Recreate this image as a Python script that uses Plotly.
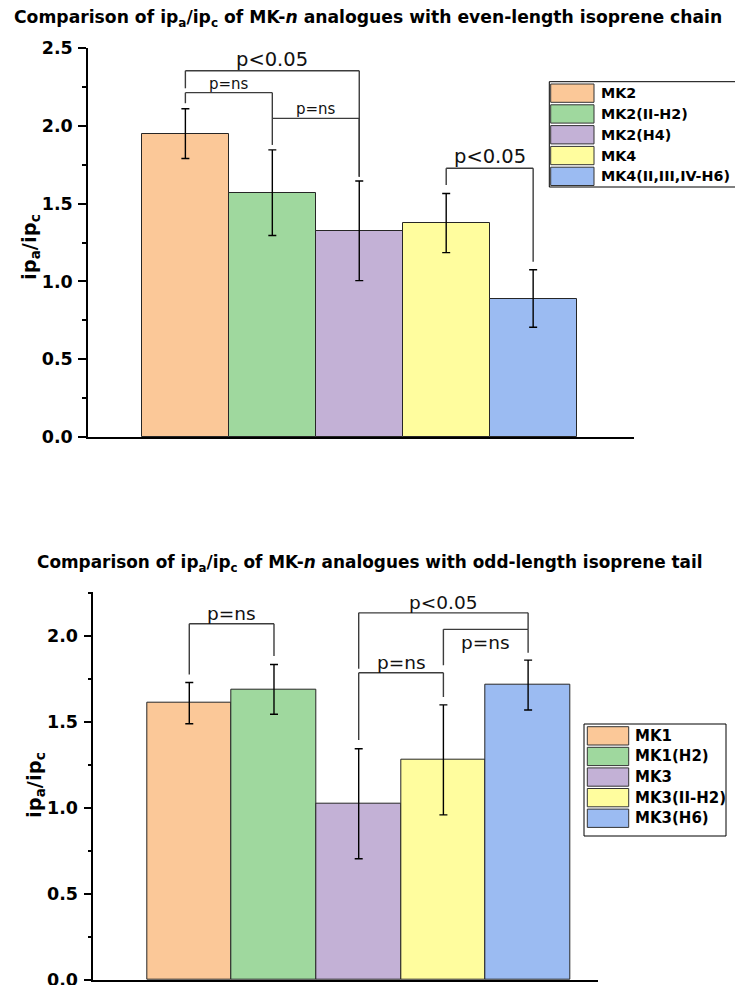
import plotly.graph_objects as go

# ---- data -------------------------------------------------------------
even_names = ["MK2", "MK2(II-H2)", "MK2(H4)", "MK4", "MK4(II,III,IV-H6)"]
even_ratio = [1.95, 1.57, 1.325, 1.375, 0.89]
even_err = [0.16, 0.275, 0.32, 0.19, 0.185]

odd_names = ["MK1", "MK1(H2)", "MK3", "MK3(II-H2)", "MK3(H6)"]
odd_ratio = [1.61, 1.69, 1.025, 1.28, 1.715]
odd_err = [0.12, 0.145, 0.32, 0.32, 0.145]

bar_colors = ["#FBC898", "#9FD89E", "#C3B1D6", "#FFFD9E", "#9BBBF2"]

# significance brackets: (left bar, right bar, bracket height,
#                         left leg end, right leg end, label, label side)
even_brackets = [
    (0, 2, 2.354, 2.241, 1.673, "p<0.05", "above"),
    (0, 1, 2.213, 2.145, 1.877, "p=ns", "above"),
    (1, 2, 2.048, 2.048, 1.673, "p=ns", "above"),
    (3, 4, 1.727, 1.620, 1.127, "p<0.05", "above"),
]
odd_brackets = [
    (0, 1, 2.072, 1.777, 1.884, "p=ns", "above"),
    (2, 4, 2.135, 1.810, 2.039, "p<0.05", "above"),
    (3, 4, 2.039, 1.831, 1.903, "p=ns", "below"),
    (2, 3, 1.787, 1.395, 1.645, "p=ns", "above"),
]

# ---- page geometry ----------------------------------------------------
W, H = 735, 985
FONT = "DejaVu Sans, Verdana, sans-serif"


def px(x):
    return x / W


def py(y):
    return 1 - y / H


fig = go.Figure()

fig.add_trace(go.Bar(
    x=even_names, y=even_ratio, width=1.0,
    marker=dict(color=bar_colors, line=dict(color="#262626", width=1)),
    error_y=dict(type="data", array=even_err, visible=True,
                 color="black", thickness=1.4, width=4),
    xaxis="x", yaxis="y", showlegend=False,
))
fig.add_trace(go.Bar(
    x=odd_names, y=odd_ratio, width=1.0,
    marker=dict(color=bar_colors, line=dict(color="#262626", width=1)),
    error_y=dict(type="data", array=odd_err, visible=True,
                 color="black", thickness=1.4, width=4),
    xaxis="x2", yaxis="y2", showlegend=False,
))

tick_font = dict(family=FONT, size=17.5, color="black", weight="bold")
yaxis_common = dict(
    showline=True, linecolor="black", linewidth=1.5,
    ticks="outside", ticklen=8, tickwidth=1.5, tickcolor="black",
    dtick=0.5, tickformat=".1f", tickfont=tick_font,
    ticklabelstandoff=2, ticklabeloverflow="allow",
    minor=dict(dtick=0.25, ticks="outside", ticklen=4, tickwidth=1.5,
               tickcolor="black"),
    showgrid=False, zeroline=False, fixedrange=True,
)
xaxis_common = dict(
    type="category", showline=True, linecolor="black", linewidth=1.5,
    showticklabels=False, ticks="", showgrid=False, zeroline=False,
    fixedrange=True,
)

fig.update_layout(
    width=W, height=H,
    margin=dict(l=0, r=0, t=0, b=0, autoexpand=False),
    paper_bgcolor="white", plot_bgcolor="white",
    bargap=0, showlegend=False,
    xaxis=dict(domain=[px(88), px(634)], range=[-1.12, 5.16], anchor="y",
               **xaxis_common),
    yaxis=dict(domain=[py(437), py(48)], range=[0, 2.5], anchor="x",
               **yaxis_common),
    xaxis2=dict(domain=[px(93.3), px(598)], range=[-1.133, 4.825],
                anchor="y2", **xaxis_common),
    yaxis2=dict(domain=[py(980), py(591.7)], range=[0, 2.258], anchor="x2",
                **yaxis_common),
)

line_style = dict(color="#3c3c3c", width=1.4)


def add_brackets(brackets, xref, yref, size_big, size_ns):
    for i, j, yb, yl, yr, label, side in brackets:
        fig.add_shape(type="line", xref=xref, yref=yref,
                      x0=i, x1=j, y0=yb, y1=yb, line=line_style)
        if yl < yb:
            fig.add_shape(type="line", xref=xref, yref=yref,
                          x0=i, x1=i, y0=yb, y1=yl, line=line_style)
        fig.add_shape(type="line", xref=xref, yref=yref,
                      x0=j, x1=j, y0=yb, y1=yr, line=line_style)
        size = size_big if label.startswith("p<") else size_ns
        fig.add_annotation(
            x=(i + j) / 2, y=yb, xref=xref, yref=yref,
            text=label, showarrow=False,
            yanchor="bottom" if side == "above" else "top",
            yshift=-2 if side == "above" else -1,
            font=dict(family=FONT, size=size, color="#111111"),
        )


add_brackets(even_brackets, "x", "y", 19.5, 15)
add_brackets(odd_brackets, "x2", "y2", 18.5, 18.5)


def add_key(names, box, sw_x, sw_w, top0, step, sw_h, text_x, size):
    x0, y0, x1, y1 = box
    fig.add_shape(type="rect", xref="paper", yref="paper",
                  x0=px(x0), x1=px(x1), y0=py(y1), y1=py(y0),
                  line=dict(color="black", width=1), fillcolor="white",
                  layer="above")
    for k, (name, col) in enumerate(zip(names, bar_colors)):
        top = top0 + k * step
        fig.add_shape(type="rect", xref="paper", yref="paper",
                      x0=px(sw_x), x1=px(sw_x + sw_w),
                      y0=py(top + sw_h), y1=py(top),
                      line=dict(color="#333333", width=1), fillcolor=col,
                      layer="above")
        fig.add_annotation(
            x=px(text_x), y=py(top + sw_h / 2), xref="paper", yref="paper",
            text=f"<b>{name}</b>", showarrow=False,
            xanchor="left", yanchor="middle",
            font=dict(family=FONT, size=size, color="black"),
        )


add_key(even_names, (549.3, 81.7, 740, 187), 550.7, 43.3, 84.0, 20.8, 18.3,
        599, 14.3)
add_key(odd_names, (584, 724, 726, 836), 587.3, 41.4, 726.7, 20.6, 18.3,
        633, 15)

# chart titles
fig.add_annotation(
    x=px(368), y=py(18), xref="paper", yref="paper", showarrow=False,
    text="<b>Comparison of ip<sub>a</sub>/ip<sub>c</sub> of MK-<i>n</i> "
         "analogues with even-length isoprene chain</b>",
    font=dict(family=FONT, size=17.2, color="black"),
    xanchor="center", yanchor="middle",
)
fig.add_annotation(
    x=px(370), y=py(563), xref="paper", yref="paper", showarrow=False,
    text="<b>Comparison of ip<sub>a</sub>/ip<sub>c</sub> of MK-<i>n</i> "
         "analogues with odd-length isoprene tail</b>",
    font=dict(family=FONT, size=16.9, color="black"),
    xanchor="center", yanchor="middle",
)

# y-axis titles
for yc, xc in ((247, 30), (785, 35)):
    fig.add_annotation(
        x=px(xc), y=py(yc), xref="paper", yref="paper", showarrow=False,
        text="<b>ip<sub>a</sub>/ip<sub>c</sub></b>", textangle=-90,
        font=dict(family=FONT, size=19.5, color="black"),
        xanchor="center", yanchor="middle",
    )

fig.write_html("out.html")
